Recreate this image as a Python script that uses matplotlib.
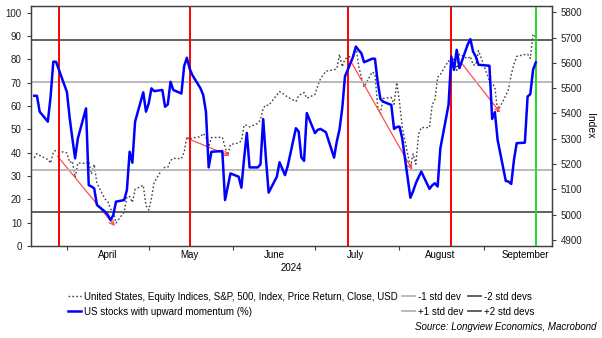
import pandas as pd
import matplotlib
matplotlib.use('Agg')
import matplotlib.pyplot as plt
import matplotlib.dates as mdates

plt.rcParams['font.family'] = ['Liberation Sans', 'DejaVu Sans']
plt.rcParams['font.size'] = 6.8

# trading days, Mar 20 - Sep 20 2024 (US market holidays removed)
holidays = ['2024-03-29', '2024-05-27', '2024-06-19', '2024-07-04', '2024-09-02']
dates = pd.bdate_range('2024-03-20', '2024-09-20').drop(pd.to_datetime(holidays))

# S&P 500 close (right axis)
spx = [5224.62, 5241.53, 5234.18, 5218.19, 5203.58, 5248.49, 5254.35,
       5243.77, 5205.81, 5211.49, 5147.21, 5204.34, 5202.39, 5209.91, 5160.64, 5199.06, 5123.41,
       5061.82, 5051.41, 5022.21, 5011.12, 4967.23, 5010.60, 5070.55, 5071.63, 5048.42, 5099.96,
       5116.17, 5035.69,
       5018.39, 5064.20, 5127.79, 5180.74, 5187.70, 5187.67, 5214.08, 5222.68, 5221.42, 5246.68,
       5308.15, 5297.10, 5303.27, 5308.13, 5321.41, 5307.01, 5267.84, 5304.72, 5306.04, 5266.95,
       5235.48, 5277.51,
       5283.40, 5291.34, 5354.03, 5352.96, 5346.99, 5360.79, 5375.32, 5421.03, 5433.74, 5431.60,
       5473.23, 5487.03, 5473.17, 5464.62, 5447.87, 5469.30, 5477.90, 5482.87, 5460.48,
       5475.09, 5509.01, 5537.02, 5567.19, 5572.85, 5576.98, 5633.91, 5584.54, 5615.35, 5631.22,
       5667.20, 5588.27, 5544.59, 5505.00, 5564.41, 5555.74, 5427.13, 5399.22, 5459.10, 5463.54,
       5436.44, 5522.30,
       5446.68, 5346.56, 5186.33, 5240.03, 5199.50, 5319.31, 5344.16, 5344.39, 5434.43, 5455.21,
       5543.22, 5554.25, 5608.25, 5597.12, 5620.85, 5570.64, 5634.61, 5616.84, 5625.80, 5592.18,
       5591.96, 5648.40,
       5528.93, 5520.07, 5503.41, 5408.42, 5471.05, 5495.52, 5554.13, 5595.76, 5626.02, 5633.09,
       5634.58, 5618.26, 5713.64, 5702.55]

# US stocks with upward momentum, % (left axis)
momentum = [64.4, 64.4, 57.6, 53.3, 64.0, 79.0, 79.0,
            66.0, 55.0, 46.0, 37.6, 46.1, 59.0, 26.1, 25.5, 24.7, 17.6,
            14.7, 13.3, 11.1, 13.3, 19.0, 19.7, 24.0, 40.4, 35.7, 53.3,
            65.9, 57.6,
            61.1, 67.6, 66.4, 66.9, 59.7, 60.7, 70.4, 66.9, 65.4, 77.1,
            80.7, 76.1, 73.3, 67.6, 64.7, 57.6, 33.7, 40.4, 40.7, 19.7,
            25.4, 31.1,
            29.7, 25.0, 37.6, 48.5, 33.7, 33.7, 35.0, 54.4, 37.6, 22.9,
            29.7, 35.9, 30.4, 34.3, 50.5, 49.1, 38.0, 36.5, 57.0,
            48.4, 49.8, 50.2, 48.8, 37.9, 44.8, 50.0, 59.1, 72.7, 81.2,
            85.5, 84.0, 82.7, 78.8, 80.3, 80.3, 70.5, 63.0, 61.9, 60.5,
            50.2, 51.0,
            51.2, 46.2, 20.7, 23.5, 26.9, 29.5, 31.9, 24.5, 26.0, 26.9,
            25.5, 41.9, 60.5, 81.2, 75.5, 84.1, 76.3, 86.3, 88.7, 83.4,
            81.2, 77.7,
            77.3, 54.5, 57.4, 45.5, 27.9, 27.6, 26.6, 36.9, 44.1, 44.3,
            64.1, 65.1, 75.5, 78.7]

# std dev bands of the momentum series
band_labels = ['-1 std dev', '+1 std dev', '-2 std devs', '+2 std devs']
band_values = [32.6, 70.3, 14.6, 88.3]
band_colors = ['#b4b4b4', '#b4b4b4', '#555555', '#555555']

# signal dates (red) and latest date (green)
signal_dates = ['2024-03-29', '2024-05-16', '2024-07-13', '2024-08-20']
latest_date = '2024-09-20'

# red arrows, in S&P index units
arrow_start = ['2024-03-28 12:00', '2024-05-14 20:00', '2024-07-13 22:00', '2024-08-23 14:00']
arrow_start_val = [5232, 5303, 5611, 5602]
arrow_end = ['2024-04-18 14:00', '2024-05-30 17:00', '2024-08-05 17:00', '2024-09-06 22:00']
arrow_end_val = [4955, 5233, 5177, 5404]

fig = plt.figure(figsize=(6.02, 3.38), dpi=100)
ax_spx = fig.add_axes([0.051, 0.2722, 0.8654, 0.71])
ax_mom = ax_spx.twinx()
ax_spx.yaxis.tick_right()
ax_spx.yaxis.set_label_position('right')
ax_mom.yaxis.tick_left()
ax_mom.yaxis.set_label_position('left')

# S&P 500 dotted
spx_line, = ax_spx.plot(dates, spx, linestyle=(0, (1.2, 1.6)), color='#404040', linewidth=1.0,
                        label='United States, Equity Indices, S&P, 500, Index, Price Return, Close, USD')

for a, av, b, bv in zip(arrow_start, arrow_start_val, arrow_end, arrow_end_val):
    ax_spx.annotate('', xy=(pd.Timestamp(b), bv), xytext=(pd.Timestamp(a), av),
                    arrowprops=dict(arrowstyle='->,head_length=0.5,head_width=0.25',
                                    color='#ff4d4d', lw=0.9, shrinkA=0, shrinkB=0))

band_lines = {}
for lab, val, col in zip(band_labels, band_values, band_colors):
    band_lines[lab] = ax_mom.axhline(val, color=col, linewidth=1.3, zorder=1, label=lab)

for d in signal_dates:
    ax_mom.axvline(pd.Timestamp(d), color='#ff0000', linewidth=1.4, zorder=2)
ax_mom.axvline(pd.Timestamp(latest_date), color='#22dd22', linewidth=1.4, zorder=2)

mom_line, = ax_mom.plot(dates, momentum, color='#0000ff', linewidth=1.8, zorder=3,
                        label='US stocks with upward momentum (%)')

# axes ranges and ticks
ax_spx.set_xlim(pd.Timestamp('2024-03-18 17:00'), pd.Timestamp('2024-09-25 20:00'))
ax_mom.set_ylim(0, 102.9)
ax_mom.set_yticks(range(0, 101, 10))
ax_spx.set_ylim(4876, 5825)
ax_spx.set_yticks(range(4900, 5801, 100))
ax_spx.set_ylabel('Index', rotation=270, labelpad=9, fontsize=7.5)

ax_spx.xaxis.set_major_locator(mdates.MonthLocator())
ax_spx.xaxis.set_major_formatter(plt.NullFormatter())
ax_spx.xaxis.set_minor_locator(mdates.MonthLocator(bymonthday=16))
ax_spx.xaxis.set_minor_formatter(mdates.DateFormatter('%B'))
ax_spx.tick_params(axis='x', which='minor', length=0, pad=3, labelsize=7)
ax_spx.set_xlabel('2024', labelpad=2, fontsize=7)

for a in (ax_spx, ax_mom):
    a.tick_params(which='major', direction='out', length=3, width=0.8, color='#404040',
                  labelcolor='#222222', labelsize=7)
    for s in a.spines.values():
        s.set_color('#404040')
        s.set_linewidth(0.9)

handles = [spx_line, mom_line, band_lines['-1 std dev'], band_lines['+1 std dev'],
           band_lines['-2 std devs'], band_lines['+2 std devs']]
fig.legend(handles, [h.get_label() for h in handles], ncol=3, loc='upper left',
           bbox_to_anchor=(0.113, 0.137), frameon=False, handlelength=1.3,
           handletextpad=0.3, columnspacing=0.5, labelspacing=0.5, borderpad=0,
           borderaxespad=0, fontsize=7)

fig.text(0.99, 0.033, 'Source: Longview Economics, Macrobond', ha='right', va='center',
         style='italic', fontsize=7)

fig.savefig('out.png', dpi=100)
